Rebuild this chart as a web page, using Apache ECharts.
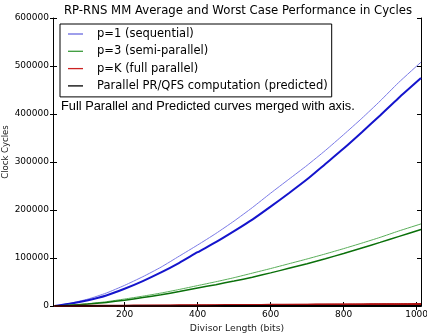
<!DOCTYPE html>
<html>
<head>
<meta charset="utf-8">
<script src="https://cdn.jsdelivr.net/npm/echarts@6/dist/echarts.min.js"></script>
<style>
html,body{margin:0;padding:0;background:#fff;}
#chart{width:427px;height:334px;}
</style>
</head>
<body>
<div id="chart"></div>
<script>
// Divisor length (bits)
var xValues = [8, 50, 100, 150, 200, 250, 300, 350, 400, 450, 500, 550, 600, 650, 700, 750, 800, 850, 900, 950, 1012];
// p=1 (sequential): worst (thin, light) and average (thick)
var seqWorst = [0, 5500, 14500, 27000, 43000, 61000, 81000, 104000, 127000, 151000, 177000, 205000, 235000, 264000, 293000, 324000, 357000, 391000, 427000, 465000, 508000];
var seqAvg   = [0, 4500, 12000, 22000, 36000, 52000, 70000, 90000, 112000, 133000, 156000, 180000, 207000, 235000, 264000, 296000, 328000, 362000, 397000, 433000, 475000];
// p=3 (semi-parallel)
var semiWorst = [0, 1800, 4800, 9000, 14500, 20500, 27000, 34500, 42500, 50500, 59000, 68500, 78000, 88000, 98000, 108500, 119500, 131000, 143000, 156000, 171000];
var semiAvg   = [0, 1500, 4000, 7500, 12000, 17500, 23500, 30000, 37500, 44500, 52000, 60000, 69000, 78500, 88000, 98500, 109500, 121000, 132500, 144500, 159500];
// p=K (full parallel)
var fullWorst = [0, 250, 450, 700, 950, 1200, 1450, 1700, 1950, 2200, 2450, 2700, 2950, 3200, 3450, 3700, 3950, 4200, 4450, 4700, 5000];
var fullAvg   = [0, 200, 380, 580, 780, 980, 1180, 1380, 1580, 1780, 1980, 2180, 2380, 2580, 2780, 2980, 3180, 3380, 3580, 3780, 4000];
// Parallel PR/QFS computation (predicted)
var predicted = [0, 30, 60, 90, 120, 150, 180, 210, 240, 270, 300, 330, 360, 390, 420, 450, 480, 510, 540, 570, 600];

var xTicks = [200, 400, 600, 800, 1000];
var legendNames = ['p=1 (sequential)', 'p=3 (semi-parallel)', 'p=K (full parallel)', 'Parallel PR/QFS computation (predicted)'];
var legendColors = ['#6a6ae0', '#3a9a3a', '#cc2222', '#000000'];

function pairs(arr){ return xValues.map(function(x,i){ return [x, arr[i]]; }); }
function line(name, arr, color, width){
  return {type:'line', name:name, data:pairs(arr), symbol:'none', smooth:0.2,
          lineStyle:{color:color, width:width}, itemStyle:{color:color}, z:3};
}

var chart = echarts.init(document.getElementById('chart'), null, {renderer:'canvas'});
var font = 'DejaVu Sans';
var option = {
  animation:false,
  backgroundColor:'#fff',
  title:[
    {text:'RP-RNS MM Average and Worst Case Performance in Cycles', left:238, top:5, padding:0, textAlign:'center',
     textStyle:{fontFamily:font, fontSize:11.7, fontWeight:'normal', color:'#000'}},
    {text:'Full Parallel and Predicted curves merged with axis.', left:61, top:100, padding:0,
     textStyle:{fontFamily:'Liberation Sans', fontSize:12.8, fontWeight:'normal', color:'#000'}}
  ],
  graphic:[
    {type:'text', x:5.5, y:152, rotation:Math.PI/2,
     style:{text:'Clock Cycles', fontFamily:font, fontSize:8.5, fill:'#222', align:'center', verticalAlign:'middle'}}
  ],
  legend:{
    data:legendNames.map(function(n,i){ return {name:n, icon:'rect', itemStyle:{color:legendColors[i]}}; }),
    orient:'vertical', left:60, top:24,
    borderColor:'#000', borderWidth:1, borderRadius:0, backgroundColor:'#fff',
    padding:[4,4,5,8], itemWidth:15, itemHeight:1.3, itemGap:5.3,
    textStyle:{fontFamily:font, fontSize:11.5, lineHeight:12, color:'#000', padding:[0,0,0,9]},
    z:10
  },
  grid:{left:53, right:6, top:18, bottom:28, containLabel:false, outerBoundsMode:'none'},
  xAxis:[
    {type:'value', min:4, max:1012, position:'bottom',
     axisLine:{show:true, lineStyle:{color:'#000', width:1}},
     axisTick:{show:true, inside:true, length:4, customValues:xTicks, lineStyle:{color:'#000'}},
     axisLabel:{customValues:xTicks, fontFamily:font, fontSize:9, color:'#000', margin:4, formatter:function(v){return String(v);}},
     splitLine:{show:false},
     name:'Divisor Length (bits)', nameLocation:'middle', nameGap:13,
     nameTextStyle:{fontFamily:font, fontSize:9.3, color:'#222'}},
    {type:'value', min:4, max:1012, position:'top',
     axisLine:{show:true, lineStyle:{color:'#000', width:1}},
     axisTick:{show:true, inside:true, length:4, customValues:xTicks, lineStyle:{color:'#000'}},
     axisLabel:{show:false}, splitLine:{show:false}}
  ],
  yAxis:[
    {type:'value', min:0, max:600000, interval:100000, position:'left',
     axisLine:{show:true, lineStyle:{color:'#000', width:1}},
     axisTick:{show:true, inside:true, length:4, lineStyle:{color:'#000'}},
     axisLabel:{fontFamily:font, fontSize:9, color:'#000', margin:4, formatter:function(v){return String(v);}},
     splitLine:{show:false}},
    {type:'value', min:0, max:600000, interval:100000, position:'right',
     axisLine:{show:true, lineStyle:{color:'#000', width:1}},
     axisTick:{show:true, inside:true, length:4, lineStyle:{color:'#000'}},
     axisLabel:{show:false}, splitLine:{show:false}},
    {type:'value', min:0, max:600000, interval:100000, position:'left',
     axisLine:{show:false},
     axisTick:{show:true, inside:false, length:3, lineStyle:{color:'#000'}},
     axisLabel:{show:false}, splitLine:{show:false}}
  ],
  series:[
    line(legendNames[0], seqWorst, '#7a7ae6', 1),
    line(legendNames[0], seqAvg, '#1414cc', 2),
    line(legendNames[1], semiWorst, '#5aae5a', 1),
    line(legendNames[1], semiAvg, '#0a700a', 1.5),
    line(legendNames[2], fullWorst, '#cc2020', 1),
    line(legendNames[2], fullAvg, '#aa1010', 2),
    line(legendNames[3], predicted, '#000000', 1.5)
  ]
};
chart.setOption(option);
</script>
</body>
</html>
